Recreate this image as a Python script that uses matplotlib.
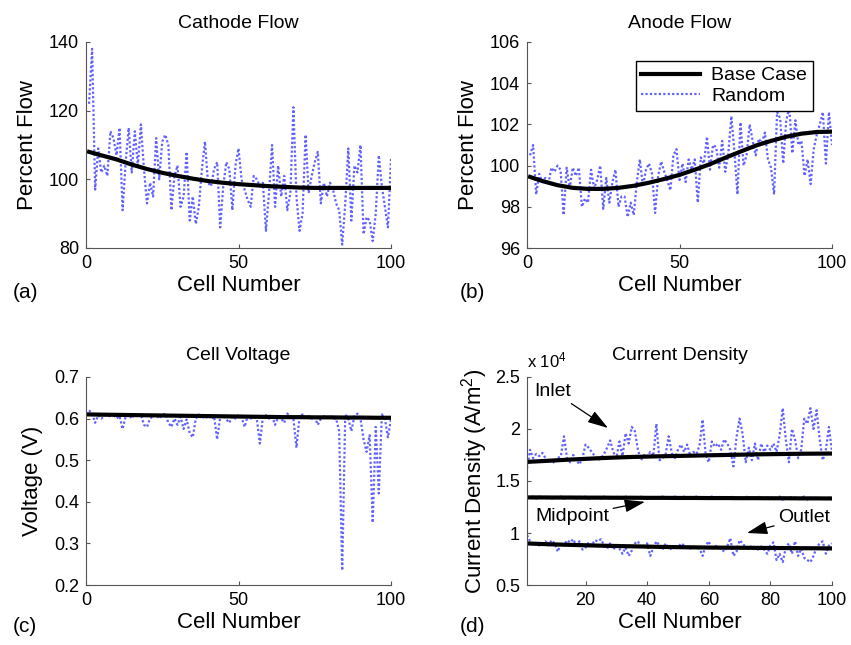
import matplotlib
matplotlib.use("Agg")
import matplotlib.pyplot as plt
import numpy as np

plt.rcParams['font.family'] = ['Liberation Sans', 'DejaVu Sans']
plt.rcParams['mathtext.default'] = 'regular'

cells = np.arange(1, 101)
base_x = [1, 5, 10, 15, 20, 25, 30, 35, 40, 45, 50, 55, 60, 65, 70, 75, 80, 85, 90, 95, 100]

# (a) cathode flow, percent
cathode_base = [108, 107, 105.8, 104.3, 103, 101.9, 101, 100.2, 99.5, 99.0, 98.6,
                98.3, 98.0, 97.8, 97.6, 97.5, 97.5, 97.5, 97.5, 97.5, 97.5]
cathode_rand = [122, 138, 97, 109, 102, 104, 101, 114, 112, 107,
                115, 91, 105, 115, 102, 114, 104, 116, 103, 93,
                99, 95, 112, 100, 111, 113, 110, 91, 101, 104,
                92, 95, 108, 88, 95, 87, 92, 103, 111, 99,
                98, 103, 105, 86, 98, 105, 103, 91, 104, 109,
                100, 97, 94, 92, 101, 100, 98, 99, 85, 96,
                110, 92, 104, 95, 101, 91, 96, 121, 95, 85,
                90, 113, 96, 101, 105, 108, 93, 99, 95, 99,
                97, 93, 91, 81, 93, 109, 88, 104, 102, 110,
                84, 89, 88, 82, 90, 107, 98, 92, 86, 106]

# (b) anode flow, percent
anode_base = [99.45, 99.25, 99.05, 98.92, 98.87, 98.87, 98.92, 99.02, 99.17, 99.35, 99.55,
              99.8, 100.07, 100.38, 100.68, 100.97, 101.2, 101.4, 101.55, 101.63, 101.65]
anode_rand = [100.5, 101.0, 98.6, 99.6, 99.2, 99.4, 99.1, 99.9, 99.7, 100.0,
              99.8, 97.6, 99.9, 98.9, 99.9, 99.5, 99.9, 98.0, 98.4, 98.2,
              99.8, 98.9, 99.3, 100.0, 97.9, 99.4, 98.2, 99.2, 99.8, 98.0,
              98.5, 98.5, 97.5, 98.2, 97.6, 99.2, 100.3, 99.0, 99.8, 100.1,
              99.6, 97.7, 99.5, 100.2, 99.7, 99.3, 98.8, 100.5, 100.8, 99.3,
              100.1, 99.2, 100.3, 99.8, 100.3, 98.2, 100.4, 100.1, 101.4, 99.8,
              101.0, 100.9, 99.9, 101.2, 99.7, 100.6, 102.4, 100.7, 98.6, 102.1,
              100.0, 100.5, 102.0, 101.2, 100.5, 101.3, 101.1, 101.6, 100.3, 99.9,
              98.6, 102.6, 102.3, 100.1, 102.2, 102.8, 100.6, 102.2, 101.0, 101.2,
              99.5, 100.3, 99.1, 100.8, 101.5, 102.0, 102.6, 100.1, 102.6, 101.0]

# (c) cell voltage, V
volt_base = [0.610, 0.6095, 0.609, 0.6085, 0.608, 0.6075, 0.607, 0.6065, 0.606, 0.6055, 0.605,
             0.6045, 0.604, 0.6035, 0.6035, 0.603, 0.603, 0.6025, 0.6025, 0.602, 0.602]
volt_rand = [0.620, 0.612, 0.590, 0.608, 0.600, 0.606, 0.610, 0.604, 0.612, 0.600,
             0.606, 0.575, 0.605, 0.610, 0.600, 0.612, 0.606, 0.610, 0.585, 0.580,
             0.600, 0.606, 0.610, 0.600, 0.608, 0.612, 0.590, 0.580, 0.600, 0.585,
             0.604, 0.575, 0.598, 0.565, 0.555, 0.600, 0.610, 0.605, 0.600, 0.608,
             0.600, 0.605, 0.550, 0.604, 0.608, 0.598, 0.590, 0.606, 0.600, 0.608,
             0.604, 0.580, 0.606, 0.600, 0.605, 0.600, 0.540, 0.604, 0.608, 0.600,
             0.606, 0.585, 0.604, 0.600, 0.590, 0.612, 0.606, 0.600, 0.530, 0.604,
             0.610, 0.600, 0.606, 0.600, 0.604, 0.585, 0.600, 0.606, 0.602, 0.606,
             0.600, 0.600, 0.570, 0.235, 0.610, 0.600, 0.570, 0.606, 0.612, 0.600,
             0.550, 0.520, 0.560, 0.350, 0.580, 0.420, 0.610, 0.600, 0.555, 0.600]

# (d) current density, x 1e4 A/m2
inlet_base = [1.684, 1.69, 1.698, 1.706, 1.713, 1.72, 1.726, 1.731, 1.735, 1.738, 1.741,
              1.744, 1.747, 1.75, 1.753, 1.756, 1.758, 1.76, 1.762, 1.763, 1.764]
mid_base = [1.342, 1.342, 1.341, 1.341, 1.34, 1.34, 1.339, 1.339, 1.338, 1.338, 1.337,
            1.337, 1.336, 1.336, 1.335, 1.335, 1.334, 1.334, 1.333, 1.333, 1.332]
outlet_base = [0.900, 0.895, 0.890, 0.886, 0.882, 0.878, 0.875, 0.872, 0.869, 0.866, 0.864,
               0.862, 0.860, 0.859, 0.858, 0.857, 0.856, 0.855, 0.854, 0.853, 0.852]
inlet_rand = [1.62, 1.80, 1.72, 1.76, 1.74, 1.77, 1.72, 1.68, 1.70, 1.67,
              1.72, 1.74, 1.93, 1.72, 1.68, 1.75, 1.70, 1.66, 1.72, 1.85,
              1.82, 1.78, 1.74, 1.70, 1.72, 1.76, 1.82, 1.89, 1.78, 1.72,
              1.88, 1.74, 1.96, 1.86, 2.02, 1.98, 1.80, 1.70, 1.75, 1.73,
              1.78, 1.74, 2.05, 1.70, 1.72, 1.76, 1.93, 1.77, 1.72, 1.80,
              1.85, 1.78, 1.85, 1.74, 1.78, 1.76, 1.84, 2.09, 1.75, 1.68,
              1.88, 1.83, 1.86, 1.80, 1.90, 1.86, 1.80, 1.64, 1.92, 2.10,
              1.95, 1.68, 1.82, 1.70, 1.86, 1.70, 1.86, 1.78, 1.84, 1.80,
              1.86, 1.78, 1.94, 2.20, 1.90, 1.68, 2.00, 1.90, 1.72, 1.80,
              2.10, 2.05, 2.20, 2.00, 2.18, 1.90, 1.70, 1.80, 2.02, 1.78]
mid_rand = [1.35, 1.34, 1.35, 1.33, 1.35, 1.34, 1.35, 1.34, 1.33, 1.35,
            1.34, 1.35, 1.33, 1.34, 1.35, 1.34, 1.33, 1.35, 1.34, 1.35,
            1.33, 1.34, 1.35, 1.34, 1.33, 1.35, 1.34, 1.33, 1.34, 1.35,
            1.34, 1.33, 1.35, 1.34, 1.35, 1.33, 1.34, 1.35, 1.34, 1.33,
            1.34, 1.35, 1.33, 1.34, 1.35, 1.34, 1.33, 1.34, 1.35, 1.33,
            1.34, 1.35, 1.34, 1.33, 1.34, 1.35, 1.33, 1.34, 1.32, 1.34,
            1.35, 1.33, 1.34, 1.35, 1.34, 1.33, 1.34, 1.35, 1.32, 1.34,
            1.33, 1.35, 1.34, 1.33, 1.34, 1.35, 1.34, 1.33, 1.34, 1.35,
            1.33, 1.34, 1.35, 1.32, 1.34, 1.33, 1.35, 1.34, 1.33, 1.34,
            1.35, 1.32, 1.34, 1.33, 1.35, 1.32, 1.34, 1.33, 1.34, 1.33]
outlet_rand = [0.98, 0.92, 0.88, 0.90, 0.88, 0.90, 0.92, 0.88, 0.93, 0.90,
               0.82, 0.90, 0.88, 0.93, 0.91, 0.94, 0.88, 0.92, 0.84, 0.86,
               0.91, 0.88, 0.93, 0.92, 0.94, 0.88, 0.85, 0.90, 0.84, 0.88,
               0.85, 0.80, 0.86, 0.78, 0.83, 0.90, 0.92, 0.86, 0.88, 0.90,
               0.78, 0.86, 0.92, 0.88, 0.84, 0.90, 0.86, 0.84, 0.88, 0.86,
               0.90, 0.88, 0.86, 0.85, 0.87, 0.86, 0.85, 0.78, 0.88, 0.92,
               0.84, 0.88, 0.86, 0.85, 0.82, 0.87, 0.95, 0.78, 0.82, 0.93,
               0.90, 0.86, 0.85, 0.88, 0.86, 0.84, 0.87, 0.84, 0.80, 0.88,
               0.91, 0.74, 0.80, 0.72, 0.86, 0.90, 0.80, 0.92, 0.78, 0.85,
               0.76, 0.74, 0.72, 0.78, 0.86, 0.90, 0.92, 0.80, 0.88, 0.90]

RAND_COLOR = '#3a3aff'
RAND_STYLE = dict(linestyle=(0, (1, 1)), color=RAND_COLOR, lw=1.6, alpha=0.8)
TICK_FS = 13
LABEL_FS = 16
TITLE_FS = 14

fig = plt.figure(figsize=(8.51, 6.45), dpi=100)
W, H = 851, 645


def make_ax(x0, x1, ytop, ybot):
    return fig.add_axes([x0 / W, 1 - ybot / H, (x1 - x0) / W, (ybot - ytop) / H])


def style(ax):
    for s in ['top', 'right']:
        ax.spines[s].set_visible(False)
    for s in ['left', 'bottom']:
        ax.spines[s].set_color('#555555')
        ax.spines[s].set_linewidth(0.8)
    ax.tick_params(direction='in', length=3, labelsize=TICK_FS, color='#555555', pad=5)


def draw(ax, base, rand):
    ax.plot(cells, rand, **RAND_STYLE)
    ax.plot(base_x, base, color='black', lw=3)


# (a)
ax1 = make_ax(86, 391, 42, 248)
draw(ax1, cathode_base, cathode_rand)
ax1.set_xlim(0, 100)
ax1.set_ylim(80, 140)
ax1.set_xticks([0, 50, 100])
ax1.set_yticks([80, 100, 120, 140])
ax1.set_title('Cathode Flow', fontsize=TITLE_FS, pad=10)
ax1.set_xlabel('Cell Number', fontsize=LABEL_FS, labelpad=2)
ax1.set_ylabel('Percent Flow', fontsize=LABEL_FS, labelpad=8)
style(ax1)

# (b)
ax2 = make_ax(527, 832, 42, 248)
ax2.plot(cells, anode_rand, **RAND_STYLE)
ax2.plot(base_x, anode_base, color='black', lw=3)
ax2.set_xlim(0, 100)
ax2.set_ylim(96, 106)
ax2.set_xticks([0, 50, 100])
ax2.set_yticks([96, 98, 100, 102, 104, 106])
ax2.set_title('Anode Flow', fontsize=TITLE_FS, pad=10)
ax2.set_xlabel('Cell Number', fontsize=LABEL_FS, labelpad=2)
ax2.set_ylabel('Percent Flow', fontsize=LABEL_FS, labelpad=8)
style(ax2)
handles = [ax2.lines[1], ax2.lines[0]]
leg = ax2.legend(handles, ['Base Case', 'Random'], loc='upper right',
                 bbox_to_anchor=(0.97, 0.955), fontsize=TICK_FS + 1,
                 frameon=True, fancybox=False, edgecolor='black', framealpha=1,
                 handlelength=3.0, borderpad=0.3, labelspacing=0.15, handletextpad=0.6)
leg.get_frame().set_linewidth(1.0)

# (c)
ax3 = make_ax(86, 391, 377, 585)
draw(ax3, volt_base, volt_rand)
ax3.set_xlim(0, 100)
ax3.set_ylim(0.2, 0.7)
ax3.set_xticks([0, 50, 100])
ax3.set_yticks([0.2, 0.3, 0.4, 0.5, 0.6, 0.7])
ax3.set_title('Cell Voltage', fontsize=TITLE_FS, pad=12)
ax3.set_xlabel('Cell Number', fontsize=LABEL_FS, labelpad=2)
ax3.set_ylabel('Voltage (V)', fontsize=LABEL_FS, labelpad=8)
style(ax3)

# (d)
ax4 = make_ax(527, 832, 377, 585)
draw(ax4, inlet_base, inlet_rand)
draw(ax4, mid_base, mid_rand)
draw(ax4, outlet_base, outlet_rand)
ax4.set_xlim(1, 100)
ax4.set_ylim(0.5, 2.5)
ax4.set_xticks([20, 40, 60, 80, 100])
ax4.set_yticks([0.5, 1, 1.5, 2, 2.5])
ax4.set_yticklabels(['0.5', '1', '1.5', '2', '2.5'])
ax4.set_title('Current Density', fontsize=TITLE_FS, pad=12)
ax4.set_xlabel('Cell Number', fontsize=LABEL_FS, labelpad=2)
ax4.set_ylabel('Current Density (A/m$^2$)', fontsize=LABEL_FS, labelpad=4)
ax4.text(0.0, 1.03, 'x 10$^4$', transform=ax4.transAxes, fontsize=12, ha='left', va='bottom')
style(ax4)

arrow = dict(arrowstyle='-|>,head_length=0.7,head_width=0.22', color='black', lw=0.9,
             mutation_scale=18, shrinkA=1, shrinkB=0)
ax4.annotate('Inlet', xy=(27.3, 2.01), xytext=(9.5, 2.36), fontsize=TICK_FS + 1,
             ha='center', va='center', arrowprops=arrow)
ax4.annotate('Midpoint', xy=(39.3, 1.30), xytext=(15.6, 1.155), fontsize=TICK_FS + 1,
             ha='center', va='center', arrowprops=arrow)
ax4.annotate('Outlet', xy=(72.4, 1.0), xytext=(91, 1.145), fontsize=TICK_FS + 1,
             ha='center', va='center', arrowprops=arrow)

# panel labels
for lab, x, y in [('(a)', 25, 293), ('(b)', 472, 293), ('(c)', 25, 626), ('(d)', 472, 626)]:
    fig.text(x / W, 1 - y / H, lab, fontsize=LABEL_FS - 1, ha='center', va='center')

fig.savefig('out.png', dpi=100)
